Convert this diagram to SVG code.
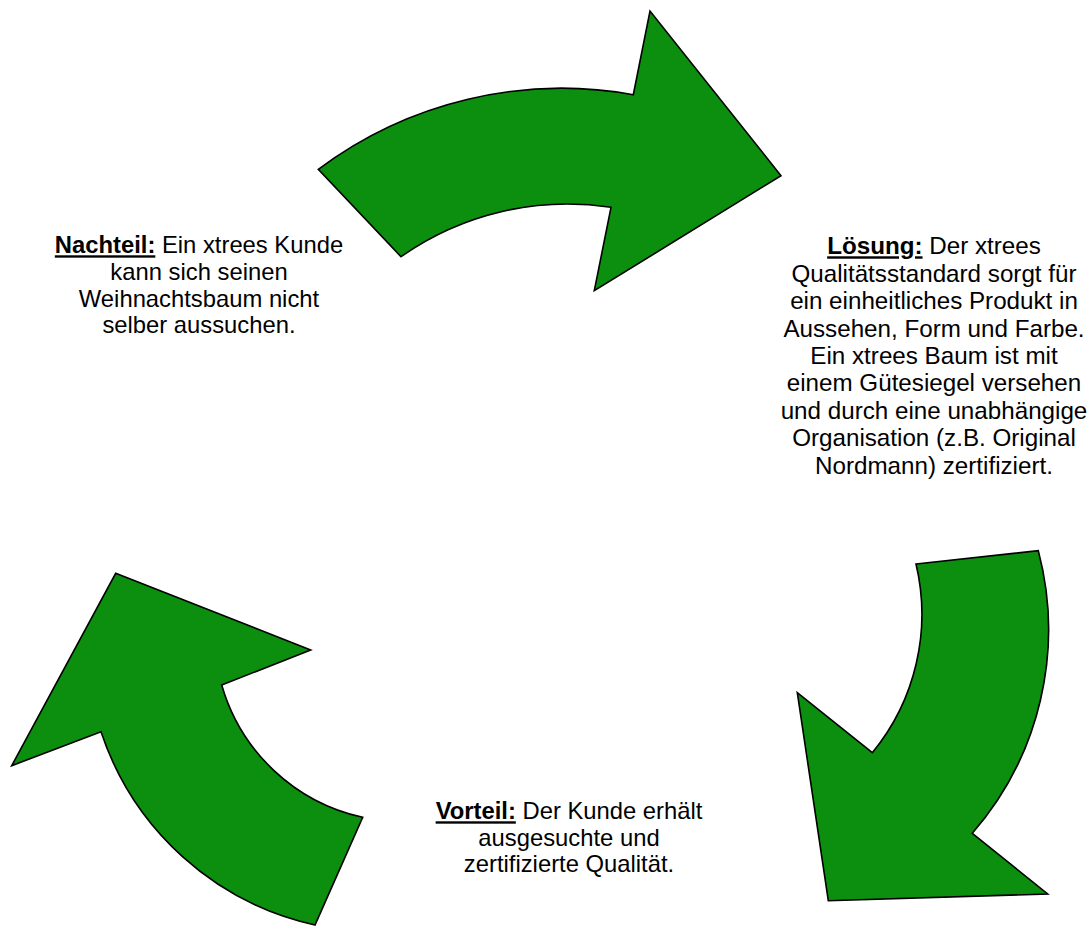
<svg xmlns="http://www.w3.org/2000/svg" width="1088" height="926" viewBox="0 0 1088 926">
  <style>
    .arrow { fill: #0c8e0e; stroke: #000000; stroke-width: 1.6; stroke-linejoin: miter; }
    .lbl { font-family: "Liberation Sans", Arial, sans-serif; font-size: 23.8px; fill: #000000; text-anchor: middle; }
    .lbl2 { font-family: "Liberation Sans", Arial, sans-serif; font-size: 24.2px; fill: #000000; text-anchor: middle; }
    .key { font-weight: bold; text-decoration: underline; }
  </style>
  <rect width="1088" height="926" fill="#ffffff"/>
  <g id="connectors">
    <path id="arrow-top" class="arrow" d="M 318.3,169.3 A 405 405 0 0 1 633.3,94.7 L 650,11 L 781,175.7 L 594.3,290.7 L 611,207.3 A 289 289 0 0 0 401,256.7 Z"/>
    <path id="arrow-right" class="arrow" d="M 916,564 L 1038.3,550.7 A 310 310 0 0 1 972.3,833.3 L 1047.7,894 L 828.3,900.7 L 797.3,692.7 L 872.3,752.7 A 218 218 0 0 0 916,564 Z"/>
    <path id="arrow-left" class="arrow" d="M 115.7,573.3 L 310.7,650 L 221.7,685 A 189 189 0 0 0 362.7,817.3 L 315,925 A 292 292 0 0 1 101,731.7 L 11.7,765.7 Z"/>
  </g>
  <g id="node-nachteil">
    <text class="lbl" x="199" y="253.3"><tspan class="key">Nachteil:</tspan> Ein xtrees Kunde</text>
    <text class="lbl" x="199" y="280">kann sich seinen</text>
    <text class="lbl" x="199" y="306.7">Weihnachtsbaum nicht</text>
    <text class="lbl" x="199" y="333.3">selber aussuchen.</text>
  </g>
  <g id="node-loesung">
    <text class="lbl2" x="934" y="254.3"><tspan class="key">Lösung:</tspan> Der xtrees</text>
    <text class="lbl2" x="934" y="281.7">Qualitätsstandard sorgt für</text>
    <text class="lbl2" x="934" y="309.1">ein einheitliches Produkt in</text>
    <text class="lbl2" x="934" y="336.5">Aussehen, Form und Farbe.</text>
    <text class="lbl2" x="934" y="363.9">Ein xtrees Baum ist mit</text>
    <text class="lbl2" x="934" y="391.3">einem Gütesiegel versehen</text>
    <text class="lbl2" x="934" y="418.7">und durch eine unabhängige</text>
    <text class="lbl2" x="934" y="446.1">Organisation (z.B. Original</text>
    <text class="lbl2" x="934" y="473.5">Nordmann) zertifiziert.</text>
  </g>
  <g id="node-vorteil">
    <text class="lbl" x="569" y="819.3"><tspan class="key">Vorteil:</tspan> Der Kunde erhält</text>
    <text class="lbl" x="569" y="845.5">ausgesuchte und</text>
    <text class="lbl" x="569" y="871.7">zertifizierte Qualität.</text>
  </g>
</svg>
